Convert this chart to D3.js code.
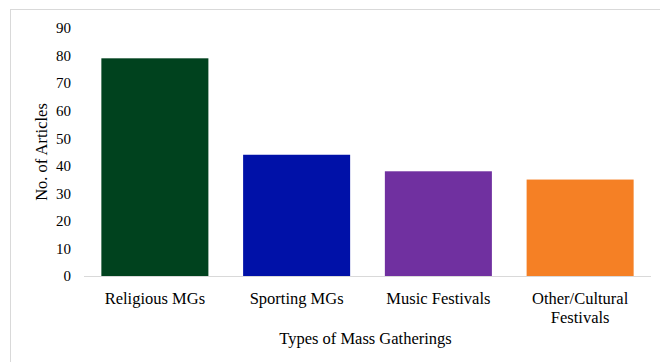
<!DOCTYPE html>
<html>
<head>
<meta charset="utf-8">
<script src="https://cdn.jsdelivr.net/npm/d3@7"></script>
<style>
  body { margin: 0; background: #fff; }
  svg text { font-family: "Times New Roman", "Liberation Serif", Tinos, "DejaVu Serif", serif !important; fill: #000; }
</style>
</head>
<body>
<svg id="chart" width="660" height="362"></svg>
<script>
// data
var categories = ["Religious MGs", "Sporting MGs", "Music Festivals", "Other/Cultural Festivals"];
var counts = [79, 44, 38, 35];
var colors = ["#00421e", "#0011a8", "#7030a0", "#f58025"];
var yTicks = [0, 10, 20, 30, 40, 50, 60, 70, 80, 90];

// layout
var pad = {left: 84, right: 9, top: 28, bottom: 86};
var W = 660, H = 362;

var svg = d3.select("#chart");

// outer frame
svg.append("rect")
   .attr("x", 10.5).attr("y", 9.5)
   .attr("width", 700).attr("height", 400)
   .attr("fill", "none")
   .attr("stroke", "#d9d9d9");

var x = d3.scaleBand()
          .domain(categories)
          .range([pad.left, W - pad.right])
          .paddingInner(0.245)
          .paddingOuter(0.1225);

var y = d3.scaleLinear()
          .domain([0, 90])
          .range([H - pad.bottom, pad.top]);

// bars
svg.selectAll("rect.bar")
   .data(categories)
   .enter().append("rect")
   .attr("class", "bar")
   .attr("x", function(d) { return x(d); })
   .attr("width", x.bandwidth())
   .attr("y", function(d, i) { return y(counts[i]); })
   .attr("height", function(d, i) { return y(0) - y(counts[i]); })
   .attr("fill", function(d, i) { return colors[i]; });

// baseline
svg.append("line")
   .attr("x1", pad.left).attr("x2", W - pad.right)
   .attr("y1", y(0) + 0.5).attr("y2", y(0) + 0.5)
   .attr("stroke", "#d9d9d9");

// y axis (labels only)
var yAxis = d3.axisLeft(y).tickValues(yTicks).tickSize(0).tickPadding(0);
var yg = svg.append("g")
            .attr("transform", "translate(" + (pad.left - 13) + ",0)")
            .call(yAxis)
            .attr("font-family", null);
yg.select(".domain").remove();
yg.selectAll("text")
  .style("font-size", "15px")
  .attr("fill", "#000");

// x axis labels
var xAxis = d3.axisBottom(x).tickSize(0).tickPadding(0).tickFormat("");
var xg = svg.append("g")
            .attr("transform", "translate(0," + y(0) + ")")
            .call(xAxis)
            .attr("font-family", null);
xg.select(".domain").remove();
xg.selectAll(".tick").each(function(d) {
  var t = d3.select(this).append("text")
            .attr("text-anchor", "middle")
            .style("font-size", "16.5px");
  var lines = d === "Other/Cultural Festivals" ? ["Other/Cultural", "Festivals"] : [d];
  lines.forEach(function(s, i) {
    t.append("tspan").attr("x", 0).attr("y", 28 + i * 18.5).text(s);
  });
});

// axis titles
svg.append("text")
   .attr("x", (pad.left + W - pad.right) / 2 - 2)
   .attr("y", 344)
   .attr("text-anchor", "middle")
   .style("font-size", "16.5px")
   .text("Types of Mass Gatherings");

svg.append("text")
   .attr("transform", "translate(47," + ((y(0) + y(90)) / 2) + ") rotate(-90)")
   .attr("text-anchor", "middle")
   .style("font-size", "16.5px")
   .text("No. of Articles");
</script>
</body>
</html>
